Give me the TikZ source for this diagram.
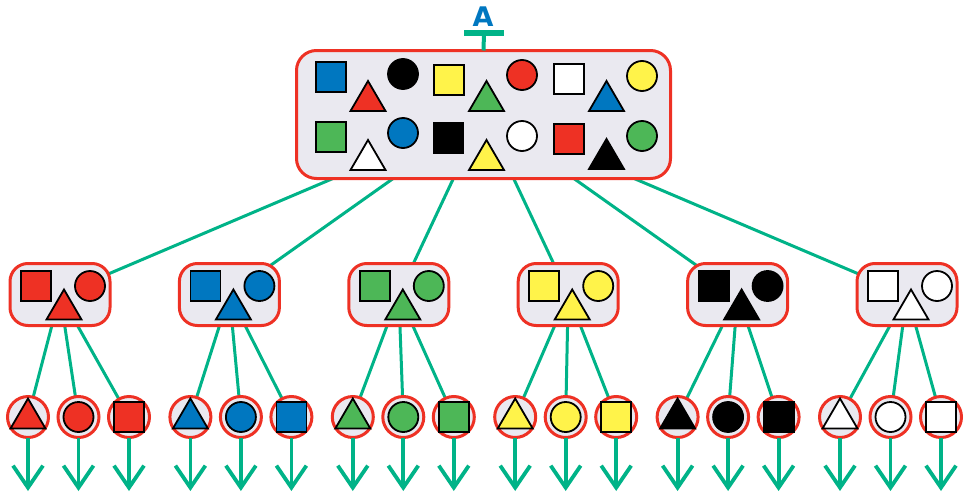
\documentclass[tikz,border=0pt]{standalone}
\usepackage{fontspec}
\newfontfamily\labelfont{DejaVu Sans}
\usetikzlibrary{arrows.meta}
\definecolor{cRed}{HTML}{EE3124}
\definecolor{cBlue}{HTML}{0077C0}
\definecolor{cGreen}{HTML}{4DB757}
\definecolor{cYellow}{HTML}{FFF34A}
\definecolor{cLine}{HTML}{00B388}
\definecolor{cFill}{HTML}{EAE9F0}
\pgfdeclarelayer{bg}
\pgfsetlayers{bg,main}
\tikzset{
  outl/.style={draw=black, line width=1.8pt, line join=miter},
  bigbox/.style={draw=cRed, fill=cFill, line width=3pt, rounded corners=20pt,
    minimum width=374pt, minimum height=128pt, inner sep=0pt, outer sep=0pt},
  midbox/.style={draw=cRed, fill=cFill, line width=3pt, rounded corners=18pt,
    minimum width=100pt, minimum height=62pt, inner sep=0pt, outer sep=0pt},
  leafnode/.style={circle, draw=cRed, fill=cFill, line width=3pt,
    minimum size=41pt, inner sep=0pt, outer sep=0pt},
  link/.style={draw=cLine, line width=3pt},
  stem/.style={draw=cLine, line width=4pt},
  tbar/.style={draw=cLine, line width=6pt},
  outarrow/.style={draw=cLine, line width=3.8pt, -{Straight Barb[length=22pt,width=30pt]}},
}
\newcommand\shSq[3]{\draw[outl, fill=#3] ({#1-15},{#2-15}) rectangle ({#1+15},{#2+15});}
\newcommand\shTri[3]{\draw[outl, fill=#3] ({#1},{#2}) -- ({#1-17.5},{#2+30}) -- ({#1+17.5},{#2+30}) -- cycle;}
\newcommand\shCirc[3]{\draw[outl, fill=#3] ({#1},{#2}) circle[radius=15];}
\begin{document}
\begin{tikzpicture}[x=1pt,y=-1pt]
\useasboundingbox (0,0) rectangle (967,493);
% title
\node[font=\labelfont\bfseries\fontsize{27}{27}\selectfont, text=cBlue, anchor=base, inner sep=0pt] (lblA) at (483,26) {A};
\coordinate (Tl) at (464,33);
\coordinate (Tr) at (504,33);
\coordinate (Tc) at (484,33);
\draw[tbar] (Tl) -- (Tr);
% top box
\node[bigbox] (top) at (483.5,114.5) {};
\draw[stem] (Tc) -- (top.north);
\shSq{331}{77}{cBlue}
\shTri{368}{81}{cRed}
\shCirc{403}{74}{black}
\shSq{449}{80}{cYellow}
\shTri{486.5}{81}{cGreen}
\shCirc{522}{75}{cRed}
\shSq{569}{79}{white}
\shTri{606.5}{81}{cBlue}
\shCirc{642}{76}{cYellow}
\shSq{331}{137}{cGreen}
\shTri{368}{140}{white}
\shCirc{403}{133}{cBlue}
\shSq{448.5}{138}{black}
\shTri{486.5}{140}{cYellow}
\shCirc{522}{136}{white}
\shSq{569}{139}{cRed}
\shTri{606.5}{139}{black}
\shCirc{642}{136}{cGreen}
% groups
\foreach \c [count=\g from 0] in {cRed,cBlue,cGreen,cYellow,black,white} {
  \pgfmathsetmacro\mx{60+169.4*\g}
  \node[midbox] (M\g) at (\mx,294.5) {};
  \shSq{\mx-24}{286}{\c}
  \shCirc{\mx+30}{286}{\c}
  \shTri{\mx+4}{289.5}{\c}
  \begin{pgfonlayer}{bg}
    \draw[link] (top.center) -- (M\g.center);
  \end{pgfonlayer}
  \foreach \k in {0,1,2} {
    \pgfmathsetmacro\lx{28+162.4*\g+50.5*\k}
    \node[leafnode] (L\g\k) at (\lx,417) {};
    \coordinate (E\g\k) at (\lx,491);
    \begin{pgfonlayer}{bg}
      \draw[link] (M\g.center) -- (L\g\k.center);
    \end{pgfonlayer}
    \draw[outarrow] (L\g\k.south) -- (E\g\k);
    \ifnum\k=0 \shTri{\lx}{398.5}{\c}\fi
    \ifnum\k=1 \shCirc{\lx}{417}{\c}\fi
    \ifnum\k=2 \shSq{\lx}{417}{\c}\fi
  }
}
\end{tikzpicture}
\end{document}
